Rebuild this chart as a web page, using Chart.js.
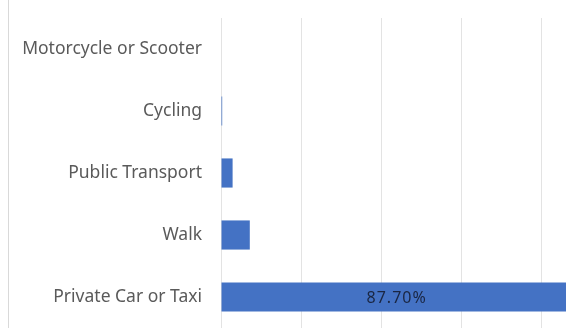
<!DOCTYPE html>
<html>
<head>
<meta charset="utf-8">
<script src="https://cdn.jsdelivr.net/npm/chart.js@4"></script>
<style>
  html, body { margin: 0; padding: 0; background: #ffffff; overflow: hidden; }
  #wrap { position: relative; width: 566px; height: 328px; overflow: hidden; }
  #frame { position: absolute; left: 8px; top: 0; width: 1px; height: 328px; background: #d9d9d9; }
  #chart { position: absolute; left: 0; top: 0; }
</style>
</head>
<body>
<div id="wrap">
  <canvas id="chart" width="630" height="328"></canvas>
  <div id="frame"></div>
</div>
<script>
// Travel mode shares (percent)
const modes = ["Motorcycle or Scooter", "Cycling", "Public Transport", "Walk", "Private Car or Taxi"];
const shares = [0, 0.3, 2.9, 7.2, 87.7];
// Only the largest share carries a printed value
const labelledModes = ["Private Car or Taxi"];
const axisMin = 0;
const axisMax = 100;
const axisStep = 20;

const valueLabels = {
  id: "valueLabels",
  afterDatasetsDraw(chart) {
    const ctx = chart.ctx;
    const meta = chart.getDatasetMeta(0);
    ctx.save();
    ctx.font = "16px 'Noto Sans'";
    ctx.letterSpacing = "1px";
    ctx.fillStyle = "#1a2642";
    ctx.textAlign = "center";
    ctx.textBaseline = "middle";
    meta.data.forEach((bar, i) => {
      if (!labelledModes.includes(modes[i])) return;
      const x = (bar.x + bar.base) / 2;
      ctx.fillText(shares[i].toFixed(2) + "%", x, bar.y + 1);
    });
    ctx.restore();
  }
};

new Chart(document.getElementById("chart"), {
  type: "bar",
  data: {
    labels: modes,
    datasets: [{
      data: shares,
      backgroundColor: "#4472c4",
      borderWidth: 0,
      categoryPercentage: 1,
      barPercentage: 0.47
    }]
  },
  options: {
    indexAxis: "y",
    responsive: false,
    animation: false,
    layout: { padding: { top: 18, right: 9, bottom: 0, left: 0 } },
    plugins: { legend: { display: false }, tooltip: { enabled: false } },
    scales: {
      x: {
        min: axisMin,
        max: axisMax,
        afterFit(scale) {
          scale.height = 0;
          scale.paddingLeft = 0;
          scale.paddingRight = 0;
        },
        ticks: { stepSize: axisStep, display: false },
        grid: { color: "#e3e3e3", lineWidth: 1, drawTicks: false },
        border: { display: false }
      },
      y: {
        afterFit(scale) {
          scale.width = 221;
          scale.paddingTop = 0;
          scale.paddingBottom = 0;
        },
        ticks: {
          color: "#5a5a5a",
          font: { family: "'Noto Sans'", size: 17.5 },
          padding: 19
        },
        grid: { display: false, drawTicks: false },
        border: { display: false }
      }
    }
  },
  plugins: [valueLabels]
});
</script>
</body>
</html>
